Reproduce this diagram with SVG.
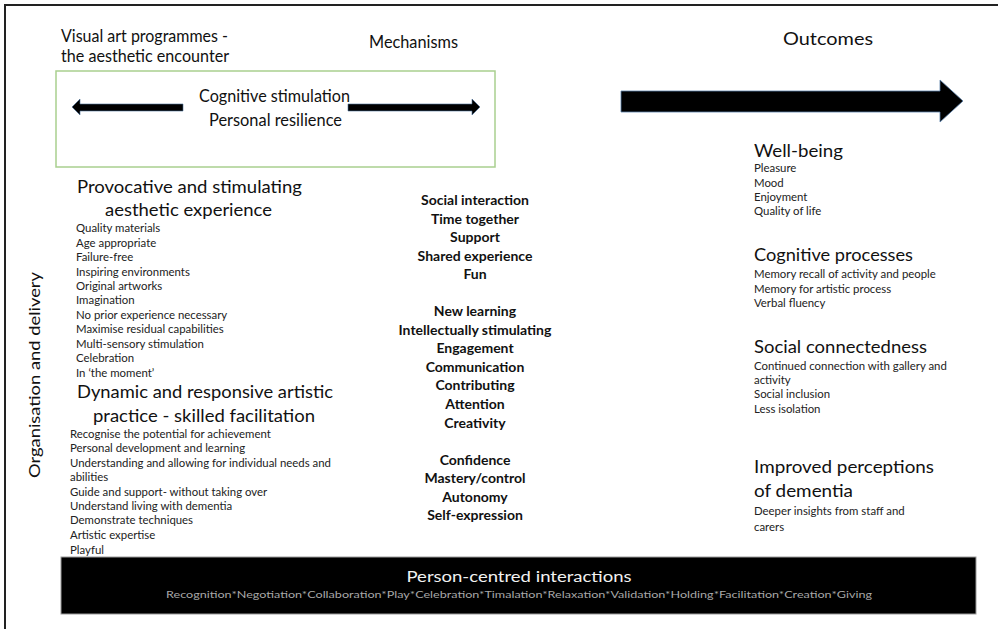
<svg xmlns="http://www.w3.org/2000/svg" width="998" height="629" viewBox="0 0 998 629">
<style>
text{font-family:Lato,"Open Sans","Liberation Sans",sans-serif;fill:#111}
.h{font-size:16.5px}
.s{font-size:11.4px;fill:#222}
.m{font-size:14px;font-weight:bold;text-anchor:middle}
.c{text-anchor:middle}
.bar1{font-size:15.5px;fill:#f2f2f2;text-anchor:middle}
.bar2{font-size:10px;fill:#a8a8a8;text-anchor:middle}
</style>
<rect width="998" height="629" fill="#fff"/>
<g id="frame">
<line x1="4" y1="5" x2="998" y2="5" stroke="#222" stroke-width="2"/>
<line x1="5" y1="4" x2="5" y2="629" stroke="#222" stroke-width="2"/>
</g>
<g id="titles">
<text class="h" x="61" y="42" textLength="167" lengthAdjust="spacingAndGlyphs">Visual art programmes -</text>
<text class="h" x="61" y="62" textLength="168" lengthAdjust="spacingAndGlyphs">the aesthetic encounter</text>
<text class="h" x="369" y="48" textLength="89" lengthAdjust="spacingAndGlyphs">Mechanisms</text>
<text class="h" x="783" y="45" textLength="90" lengthAdjust="spacingAndGlyphs">Outcomes</text>
</g>
<g id="encounter-box">
<rect x="56" y="71" width="439" height="96" fill="#fff" stroke="#a9cf8f" stroke-width="1.5"/>
<text class="h" x="199" y="102" textLength="151" lengthAdjust="spacingAndGlyphs">Cognitive stimulation</text>
<text class="h" x="209" y="126" textLength="133" lengthAdjust="spacingAndGlyphs">Personal resilience</text>
</g>
<g id="connectors">
<polygon points="72,107 80,99 80,104 183,104 183,111 80,111 80,115" fill="#000" stroke="#4a6f99" stroke-width="0.6"/>
<polygon points="480,107 472,99 472,104 348,104 348,111 472,111 472,115" fill="#000" stroke="#4a6f99" stroke-width="0.6"/>
<polygon points="621,91 940,91 940,80 963,101 940,122 940,112 621,112" fill="#000" stroke="#5a80aa" stroke-width="0.8"/>
</g>
<g id="aesthetic-experience">
<text class="h" x="77" y="193" textLength="225" lengthAdjust="spacingAndGlyphs">Provocative and stimulating</text>
<text class="h" x="105" y="216" textLength="167" lengthAdjust="spacingAndGlyphs">aesthetic experience</text>
<text class="s" x="76" y="232">Quality materials</text>
<text class="s" x="76" y="247">Age appropriate</text>
<text class="s" x="76" y="261">Failure-free</text>
<text class="s" x="76" y="276">Inspiring environments</text>
<text class="s" x="76" y="290">Original artworks</text>
<text class="s" x="76" y="304">Imagination</text>
<text class="s" x="76" y="319">No prior experience necessary</text>
<text class="s" x="76" y="333">Maximise residual capabilities</text>
<text class="s" x="76" y="348">Multi-sensory stimulation</text>
<text class="s" x="76" y="362">Celebration</text>
<text class="s" x="76" y="377">In ‘the moment’</text>
</g>
<g id="artistic-practice">
<text class="h" x="77" y="398" textLength="256" lengthAdjust="spacingAndGlyphs">Dynamic and responsive artistic</text>
<text class="h" x="93" y="422" textLength="222" lengthAdjust="spacingAndGlyphs">practice - skilled facilitation</text>
<text class="s" x="70" y="438">Recognise the potential for achievement</text>
<text class="s" x="70" y="452">Personal development and learning</text>
<text class="s" x="70" y="467">Understanding and allowing for individual needs and</text>
<text class="s" x="70" y="481">abilities</text>
<text class="s" x="70" y="496">Guide and support- without taking over</text>
<text class="s" x="70" y="510">Understand living with dementia</text>
<text class="s" x="70" y="524">Demonstrate techniques</text>
<text class="s" x="70" y="539">Artistic expertise</text>
<text class="s" x="70" y="554">Playful</text>
</g>
<g id="mechanisms">
<text class="m" x="475" y="205">Social interaction</text>
<text class="m" x="475" y="224">Time together</text>
<text class="m" x="475" y="242">Support</text>
<text class="m" x="475" y="261">Shared experience</text>
<text class="m" x="475" y="279">Fun</text>
<text class="m" x="475" y="316">New learning</text>
<text class="m" x="475" y="335">Intellectually stimulating</text>
<text class="m" x="475" y="353">Engagement</text>
<text class="m" x="475" y="372">Communication</text>
<text class="m" x="475" y="390">Contributing</text>
<text class="m" x="475" y="409">Attention</text>
<text class="m" x="475" y="428">Creativity</text>
<text class="m" x="475" y="465">Confidence</text>
<text class="m" x="475" y="483">Mastery/control</text>
<text class="m" x="475" y="502">Autonomy</text>
<text class="m" x="475" y="520">Self-expression</text>
</g>
<g id="wellbeing">
<text class="h" x="754" y="157" textLength="89" lengthAdjust="spacingAndGlyphs">Well-being</text>
<text class="s" x="754" y="172">Pleasure</text>
<text class="s" x="754" y="187">Mood</text>
<text class="s" x="754" y="201">Enjoyment</text>
<text class="s" x="754" y="215">Quality of life</text>
</g>
<g id="cognitive-processes">
<text class="h" x="754" y="261" textLength="159" lengthAdjust="spacingAndGlyphs">Cognitive processes</text>
<text class="s" x="754" y="278">Memory recall of activity and people</text>
<text class="s" x="754" y="293">Memory for artistic process</text>
<text class="s" x="754" y="307">Verbal fluency</text>
</g>
<g id="social-connectedness">
<text class="h" x="754" y="353" textLength="173" lengthAdjust="spacingAndGlyphs">Social connectedness</text>
<text class="s" x="754" y="370">Continued connection with gallery and</text>
<text class="s" x="754" y="384">activity</text>
<text class="s" x="754" y="398">Social inclusion</text>
<text class="s" x="754" y="413">Less isolation</text>
</g>
<g id="perceptions">
<text class="h" x="754" y="473" textLength="180" lengthAdjust="spacingAndGlyphs">Improved perceptions</text>
<text class="h" x="754" y="497" textLength="99" lengthAdjust="spacingAndGlyphs">of dementia</text>
<text class="s" x="754" y="515">Deeper insights from staff and</text>
<text class="s" x="754" y="531">carers</text>
</g>
<g id="organisation">
<text transform="translate(40,375) rotate(-90)" class="c" style="font-size:15.5px" textLength="206" lengthAdjust="spacingAndGlyphs">Organisation and delivery</text>
</g>
<g id="person-centred">
<rect x="61" y="557" width="915" height="57" fill="#000" stroke="#9a9a9a" stroke-width="1"/>
<text class="bar1" x="519" y="582" textLength="225" lengthAdjust="spacingAndGlyphs">Person-centred interactions</text>
<text class="bar2" x="519" y="598" textLength="706" lengthAdjust="spacingAndGlyphs">Recognition*Negotiation*Collaboration*Play*Celebration*Timalation*Relaxation*Validation*Holding*Facilitation*Creation*Giving</text>
</g>
</svg>
